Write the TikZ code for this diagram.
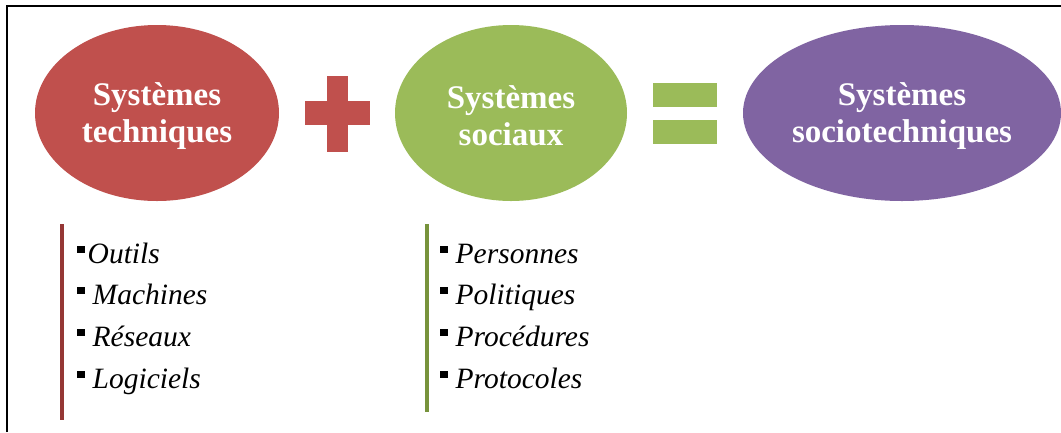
\documentclass[tikz,border=0pt]{standalone}
\usepackage{fontspec}
\setmainfont{Liberation Serif}
\usetikzlibrary{shapes.geometric}
\definecolor{redc}{HTML}{C0504D}
\definecolor{greenc}{HTML}{9BBB59}
\definecolor{purplec}{HTML}{8064A2}
\definecolor{redbar}{HTML}{953735}
\definecolor{greenbar}{HTML}{77933C}
\newcommand{\sqbullet}{\raisebox{10pt}{\rule{7.5pt}{7.5pt}}}
\begin{document}
\begin{tikzpicture}[x=1pt,y=-1pt,
  sys/.style={ellipse, inner sep=0pt, minimum height=176pt},
  syslabel/.style={inner sep=0pt, text=white, align=center, yshift=-3pt,
    font=\fontsize{33}{37}\selectfont\bfseries},
  item/.style={anchor=base west, inner sep=0pt,
    font=\fontsize{29.5}{36}\selectfont\itshape},
  bar/.style={line width=4pt}]
\useasboundingbox (0,0) rectangle (1061,432);
\fill[white] (0,0) rectangle (1061,432);
\draw[line width=2pt] (7,432) -- (7,6) -- (1061,6);
% ellipses
\node[sys, fill=redc, minimum width=244pt] (tech) at (157,113) {};
\node[syslabel] (techl) at (tech.center) {Systèmes\\techniques};
\node[sys, fill=greenc, minimum width=232pt] (soc) at (511,113) {};
\node[syslabel] (socl) at (soc.center) {Systèmes\\sociaux};
\node[sys, fill=purplec, minimum width=318pt] (st) at (902,113) {};
\node[syslabel] (stl) at (st.center) {Systèmes\\sociotechniques};
% plus
\fill[redc] (305,101) rectangle (370,125);
\fill[redc] (327,76) rectangle (348,152);
% equals
\fill[greenc] (653,83) rectangle (717,107);
\fill[greenc] (653,120) rectangle (717,144);
% bars
\draw[bar, redbar] (62,224) -- (62,420);
\draw[bar, greenbar] (427,224) -- (427,412);
% lists
\node[item] (t1) at (77,263) {\sqbullet\hspace{3pt}Outils};
\node[item] (t2) at (77,304) {\sqbullet\hspace{8pt}Machines};
\node[item] (t3) at (77,346) {\sqbullet\hspace{8pt}Réseaux};
\node[item] (t4) at (77,388) {\sqbullet\hspace{8pt}Logiciels};
\node[item] (s1) at (440,263) {\sqbullet\hspace{8pt}Personnes};
\node[item] (s2) at (440,304) {\sqbullet\hspace{8pt}Politiques};
\node[item] (s3) at (440,346) {\sqbullet\hspace{8pt}Procédures};
\node[item] (s4) at (440,388) {\sqbullet\hspace{8pt}Protocoles};
\end{tikzpicture}
\end{document}
